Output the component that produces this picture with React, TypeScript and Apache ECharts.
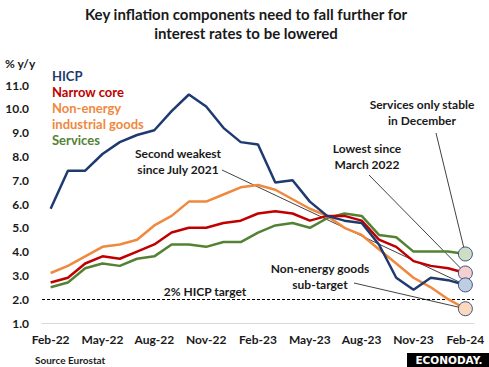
import React, { useEffect, useRef } from "react";
import * as echarts from "echarts";

const categories = [
  "Feb-22", "Mar-22", "Apr-22", "May-22", "Jun-22", "Jul-22", "Aug-22", "Sep-22", "Oct-22", "Nov-22", "Dec-22",
  "Jan-23", "Feb-23", "Mar-23", "Apr-23", "May-23", "Jun-23", "Jul-23", "Aug-23", "Sep-23", "Oct-23", "Nov-23", "Dec-23",
  "Jan-24", "Feb-24",
];
const hicp = [5.8, 7.4, 7.4, 8.1, 8.6, 8.9, 9.1, 9.9, 10.6, 10.1, 9.2, 8.6, 8.5, 6.9, 7.0, 6.1, 5.5, 5.3, 5.2, 4.3, 2.9, 2.4, 2.9, 2.8, 2.6];
const narrowCore = [2.7, 2.9, 3.5, 3.8, 3.7, 4.0, 4.3, 4.8, 5.0, 5.0, 5.2, 5.3, 5.6, 5.7, 5.6, 5.3, 5.5, 5.5, 5.3, 4.5, 4.2, 3.6, 3.4, 3.3, 3.1];
const nonEnergy = [3.1, 3.4, 3.8, 4.2, 4.3, 4.5, 5.1, 5.5, 6.1, 6.1, 6.4, 6.7, 6.8, 6.6, 6.2, 5.8, 5.5, 5.0, 4.7, 4.1, 3.5, 2.9, 2.5, 2.0, 1.6];
const services = [2.5, 2.7, 3.3, 3.5, 3.4, 3.7, 3.8, 4.3, 4.3, 4.2, 4.4, 4.4, 4.8, 5.1, 5.2, 5.0, 5.4, 5.6, 5.5, 4.7, 4.6, 4.0, 4.0, 4.0, 3.9];
const target = 2.0;
const yMin = 1;
const yMax = 11;

const FONT = "Lato";
const NAVY = "#1F3A70";
const RED = "#C00000";
const ORANGE = "#F0883E";
const GREEN = "#548235";
const RING = "#3A5283";

export default function App() {
  const ref = useRef<HTMLDivElement>(null);
  useEffect(() => {
    if (!ref.current) return;
    const chart = echarts.init(ref.current, undefined, { renderer: "svg" });
    const last = categories[categories.length - 1];
    const endPoint = (vals: number[], fill: string) => ({
      symbol: "circle",
      symbolSize: 14,
      z: 10,
      silent: true,
      label: { show: false },
      itemStyle: { color: fill, borderColor: RING, borderWidth: 1 },
      data: [{ coord: [last, vals[vals.length - 1]] }],
    });
    const leader = (x: number, y: number, vals: number[]) => [
      { x, y },
      { coord: [last, vals[vals.length - 1]] },
    ];
    const leaderStyle = { color: "#111", width: 0.8, type: "solid" as const };
    const mkSeries = (name: string, data: number[], color: string, fill: string, lines: any[]) => ({
      name,
      type: "line",
      data,
      symbol: "none",
      lineStyle: { color, width: 2.5 },
      itemStyle: { color },
      z: 3,
      markPoint: endPoint(data, fill),
      markLine: {
        silent: true,
        symbol: "none",
        z: 2,
        label: { show: false },
        lineStyle: leaderStyle,
        data: lines,
      },
    });

    const text = (x: number, y: number, t: string, opts: any = {}) => ({
      type: "text",
      x,
      y,
      style: {
        text: t,
        font: `bold ${opts.size || 12}px ${FONT}`,
        fill: opts.color || "#1a1a1a",
        textAlign: opts.align || "center",
        textVerticalAlign: "middle",
        lineHeight: opts.lh || 16,
      },
    });

    chart.setOption({
      animation: false,
      textStyle: { fontFamily: FONT },
      grid: { left: 42, right: 15, top: 85, bottom: 44 },
      legend: {
        orient: "vertical",
        left: 47,
        top: 68,
        icon: "none",
        itemWidth: 0,
        itemHeight: 16,
        itemGap: 0,
        padding: 0,
        selectedMode: false,
        formatter: (n: string) => n.replace(" industrial", "\nindustrial"),
        textStyle: { fontWeight: "bold", fontSize: 13, lineHeight: 16, fontFamily: FONT },
        data: [
          { name: "HICP", textStyle: { color: NAVY } },
          { name: "Narrow core", textStyle: { color: RED } },
          { name: "Non-energy industrial goods", textStyle: { color: ORANGE } },
          { name: "Services", textStyle: { color: GREEN } },
        ],
      },
      xAxis: {
        type: "category",
        data: categories,
        boundaryGap: true,
        axisLine: { lineStyle: { color: "#D9D9D9", width: 1 } },
        axisTick: { show: false },
        axisLabel: { interval: 2, color: "#1a1a1a", fontWeight: "bold", fontSize: 12, margin: 10, fontFamily: FONT },
      },
      yAxis: {
        type: "value",
        min: yMin,
        max: yMax,
        interval: 1,
        axisLine: { show: false },
        axisTick: { show: false },
        splitLine: { show: false },
        axisLabel: {
          color: "#1a1a1a",
          fontWeight: "bold",
          fontSize: 12,
          margin: 13,
          fontFamily: FONT,
          formatter: (v: number) => v.toFixed(1),
        },
      },
      graphic: [
        text(246, 14, "Key inflation components need to fall further for", { size: 15 }),
        text(246, 33, "interest rates to be lowered", { size: 15 }),
        text(5, 63, "% y/y", { align: "left", size: 12 }),
        text(178, 161, "Second weakest\nsince July 2021"),
        text(367, 156, "Lowest since\nMarch 2022"),
        text(422, 112, "Services only stable\nin December"),
        text(320, 276, "Non-energy goods\nsub-target"),
        text(205, 291, "2% HICP target"),
        text(35, 360, "Source Eurostat", { align: "left", size: 10 }),
        {
          type: "rect",
          shape: { x: 407, y: 353, width: 82, height: 14 },
          style: { fill: "#000" },
        },
        {
          type: "text",
          x: 449,
          y: 360,
          style: {
            text: "ECONODAY.",
            font: `bold 10.5px "DejaVu Sans"`,
            fill: "#fff",
            textAlign: "center",
            textVerticalAlign: "middle",
          },
        },
      ],
      series: [
        mkSeries("Services", services, GREEN, "#CFDDC5", [leader(436, 133, services)]),
        mkSeries("Non-energy industrial goods", nonEnergy, ORANGE, "#FCD9BC", [leader(354, 283, nonEnergy)]),
        mkSeries("Narrow core", narrowCore, RED, "#F6D0D0", [leader(369, 175, narrowCore)]),
        {
          ...mkSeries("HICP", hicp, NAVY, "#BFCDE3", [leader(222, 170, hicp)]),
          markLine: {
            silent: true,
            symbol: "none",
            z: 2,
            label: { show: false },
            lineStyle: leaderStyle,
            data: [
              leader(222, 170, hicp),
              { yAxis: target, lineStyle: { color: "#000", width: 1, type: [3, 2] } },
            ],
          },
        },
      ],
    });
    return () => chart.dispose();
  }, []);
  return <div ref={ref} style={{ width: 489, height: 367, position: "absolute", left: 0, top: 0 }} />;
}
